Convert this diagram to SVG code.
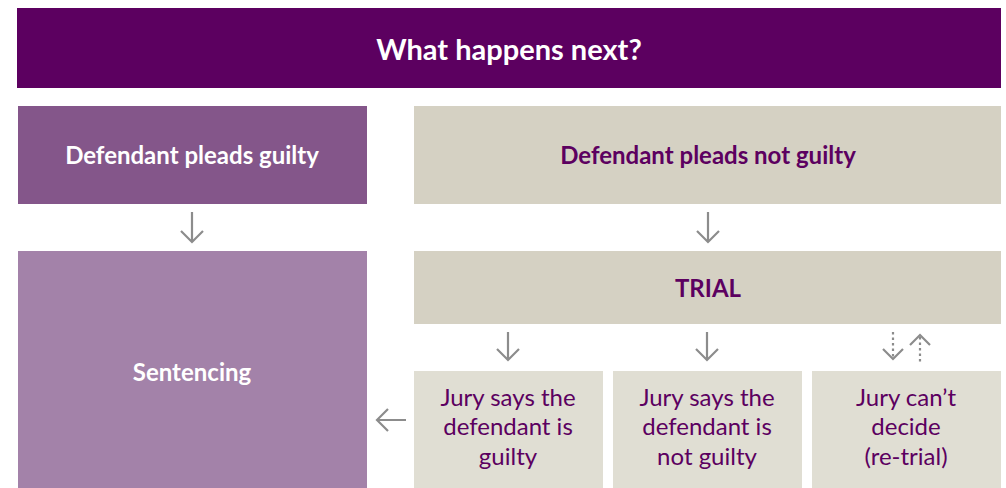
<svg xmlns="http://www.w3.org/2000/svg" width="1006" height="488" viewBox="0 0 1006 488">
  <style>
    .t { font-family: Lato, "Liberation Sans", sans-serif; text-anchor: middle; }
    .b { font-weight: bold; font-size: 24px; }
    .w { fill: #ffffff; }
    .p { fill: #5c0060; }
    .r { font-size: 24px; }
    .arr { stroke: #8c8c8c; stroke-width: 2.2; fill: none; }
    .dot { stroke: #8c8c8c; stroke-width: 2.2; fill: none; stroke-dasharray: 2.5 3; }
  </style>
  <rect width="1006" height="488" fill="#ffffff"/>

  <g id="header">
    <rect x="17" y="8" width="984" height="80" fill="#5c0060"/>
    <text class="t w" x="509" y="60" font-size="29" font-weight="bold">What happens next?</text>
  </g>

  <g id="pleads-guilty">
    <rect x="18" y="106" width="349" height="98" fill="#84568a"/>
    <text class="t b w" x="192" y="164">Defendant pleads guilty</text>
  </g>

  <g id="pleads-not-guilty">
    <rect x="414" y="106" width="587" height="98" fill="#d5d1c3"/>
    <text class="t b p" x="708" y="164">Defendant pleads not guilty</text>
  </g>

  <g id="sentencing">
    <rect x="18" y="251" width="349" height="237" fill="#a382a9"/>
    <text class="t b w" x="192" y="381">Sentencing</text>
  </g>

  <g id="trial">
    <rect x="414" y="251" width="587" height="73" fill="#d5d1c3"/>
    <text class="t b p" x="708" y="297">TRIAL</text>
  </g>

  <g id="jury-guilty">
    <rect x="414" y="371" width="189" height="117" fill="#e0ded3"/>
    <text class="t r p" x="508" y="406">Jury says the</text>
    <text class="t r p" x="508" y="435">defendant is</text>
    <text class="t r p" x="508" y="465">guilty</text>
  </g>

  <g id="jury-not-guilty">
    <rect x="613" y="371" width="189" height="117" fill="#e0ded3"/>
    <text class="t r p" x="707" y="406">Jury says the</text>
    <text class="t r p" x="707" y="435">defendant is</text>
    <text class="t r p" x="707" y="465">not guilty</text>
  </g>

  <g id="jury-undecided">
    <rect x="812" y="371" width="189" height="117" fill="#e0ded3"/>
    <text class="t r p" x="906" y="406">Jury can’t</text>
    <text class="t r p" x="906" y="435">decide</text>
    <text class="t r p" x="906" y="465">(re-trial)</text>
  </g>

  <g id="connectors">
    <!-- guilty plea to sentencing -->
    <path class="arr" d="M192 212 V242 M181 231 L192 242 L203 231"/>
    <!-- not guilty plea to trial -->
    <path class="arr" d="M708 212 V242 M697 231 L708 242 L719 231"/>
    <!-- trial to verdicts -->
    <path class="arr" d="M508 332 V360 M497 349 L508 360 L519 349"/>
    <path class="arr" d="M707 332 V360 M696 349 L707 360 L718 349"/>
    <!-- undecided: back to trial -->
    <path class="dot" d="M893 332 V357"/>
    <path class="arr" d="M883 349 L893 359 L903 349"/>
    <path class="dot" d="M920 337 V362"/>
    <path class="arr" d="M910 345 L920 335 L930 345"/>
    <!-- guilty verdict to sentencing -->
    <path class="arr" d="M406 420 H377 M388 409 L377 420 L388 431"/>
  </g>
</svg>
